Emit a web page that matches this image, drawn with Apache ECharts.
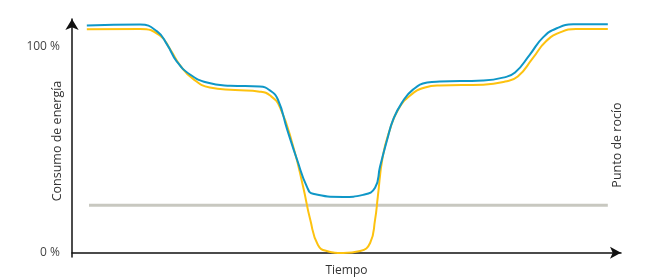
<!DOCTYPE html>
<html>
<head>
<meta charset="utf-8">
<script src="https://cdn.jsdelivr.net/npm/echarts@6/dist/echarts.min.js"></script>
<style>
  html, body { margin: 0; padding: 0; background: #fff; }
  #chart { width: 646px; height: 279px; }
</style>
</head>
<body>
<div id="chart"></div>
<script>
  // tiempo (0-100) y consumo (%)
  var blueTime = [2.7, 12.4, 15.5, 17.3, 19.1, 21.5, 24.6, 28.8, 34.2, 36.1, 37.5, 39.2, 41.0, 42.8, 43.9, 49.4, 53.0, 55.2, 56.1, 57.4, 58.5, 60.1, 62.1, 64.7, 67.0, 74.9, 78.5, 80.7, 83.4, 85.8, 88.3, 91.3, 97.6];
  var blueEnergy = [110.2, 110.6, 107.3, 101.0, 92.7, 86.4, 82.5, 81.0, 80.6, 78.6, 74.3, 59.7, 45.1, 32.0, 28.6, 27.1, 28.1, 31.5, 41.7, 54.8, 64.5, 72.8, 79.1, 82.5, 83.0, 83.5, 84.9, 87.4, 96.1, 104.4, 108.8, 110.7, 110.7];

  var yellowTime = [2.7, 12.4, 16.0, 17.9, 19.7, 22.0, 25.1, 29.7, 34.2, 36.1, 37.9, 40.3, 42.1, 43.4, 44.8, 46.4, 49.4, 52.5, 54.3, 55.2, 55.7, 56.6, 57.9, 59.4, 61.6, 64.3, 67.0, 74.9, 78.9, 81.2, 83.9, 86.3, 88.9, 91.8, 97.6];
  var yellowEnergy = [108.3, 108.5, 105.3, 98.5, 90.8, 84.4, 80.1, 78.9, 78.1, 76.2, 70.4, 51.4, 32.0, 16.0, 3.8, 0.9, -0.1, 0.9, 4.8, 16.0, 27.1, 46.6, 59.7, 69.4, 76.2, 80.1, 81.1, 81.5, 83.0, 85.4, 94.2, 102.4, 106.8, 108.5, 108.5];

  var dewTime = [3.1, 97.6];
  var dewLevel = [23.1, 23.1];

  var yTicks = [0, 100];

  function zip(a, b) {
    var out = [];
    for (var i = 0; i < a.length; i++) out.push([a[i], b[i]]);
    return out;
  }

  var myChart = echarts.init(document.getElementById('chart'));
  var font = '"Open Sans", "Noto Sans", sans-serif';

  var option = {
    backgroundColor: '#fff',
    animation: false,
    grid: { left: 72, right: 25, top: 19, bottom: 22, outerBoundsMode: 'none', containLabel: false },
    xAxis: {
      type: 'value',
      min: 0,
      max: 100,
      name: 'Tiempo',
      nameLocation: 'middle',
      nameGap: 8,
      nameTextStyle: { color: '#333', fontSize: 12, fontFamily: font },
      axisLine: {
        show: true,
        symbol: ['none', 'arrow'],
        symbolSize: [9, 11],
        lineStyle: { color: '#111', width: 1.5 }
      },
      axisTick: { show: false },
      axisLabel: { show: false },
      splitLine: { show: false }
    },
    yAxis: {
      type: 'value',
      min: -2,
      max: 113.3,
      axisLine: {
        show: true,
        symbol: ['none', 'arrow'],
        symbolSize: [10, 11],
        lineStyle: { color: '#111', width: 1.5 }
      },
      axisTick: { show: false },
      axisLabel: {
        customValues: yTicks,
        formatter: '{value} %',
        color: '#444',
        fontSize: 12,
        fontFamily: font,
        margin: 12
      },
      splitLine: { show: false }
    },
    graphic: [
      {
        type: 'text',
        x: 57, y: 141,
        rotation: Math.PI / 2,
        style: {
          text: 'Consumo de energía',
          fill: '#333',
          font: '12.5px ' + font,
          align: 'center',
          verticalAlign: 'middle'
        }
      },
      {
        type: 'text',
        x: 617, y: 145,
        rotation: Math.PI / 2,
        style: {
          text: 'Punto de rocío',
          fill: '#333',
          font: '12.5px ' + font,
          align: 'center',
          verticalAlign: 'middle'
        }
      }
    ],
    series: [
      {
        name: 'Punto de rocío',
        type: 'line',
        symbol: 'none',
        data: zip(dewTime, dewLevel),
        lineStyle: { color: '#c8c8c0', width: 3 }
      },
      {
        name: 'Consumo A',
        type: 'line',
        symbol: 'none',
        smooth: 0.5,
        data: zip(yellowTime, yellowEnergy),
        lineStyle: { color: '#fdc20f', width: 2 }
      },
      {
        name: 'Consumo B',
        type: 'line',
        symbol: 'none',
        smooth: 0.5,
        data: zip(blueTime, blueEnergy),
        lineStyle: { color: '#0f97c7', width: 2 }
      }
    ]
  };

  myChart.setOption(option);
</script>
</body>
</html>
